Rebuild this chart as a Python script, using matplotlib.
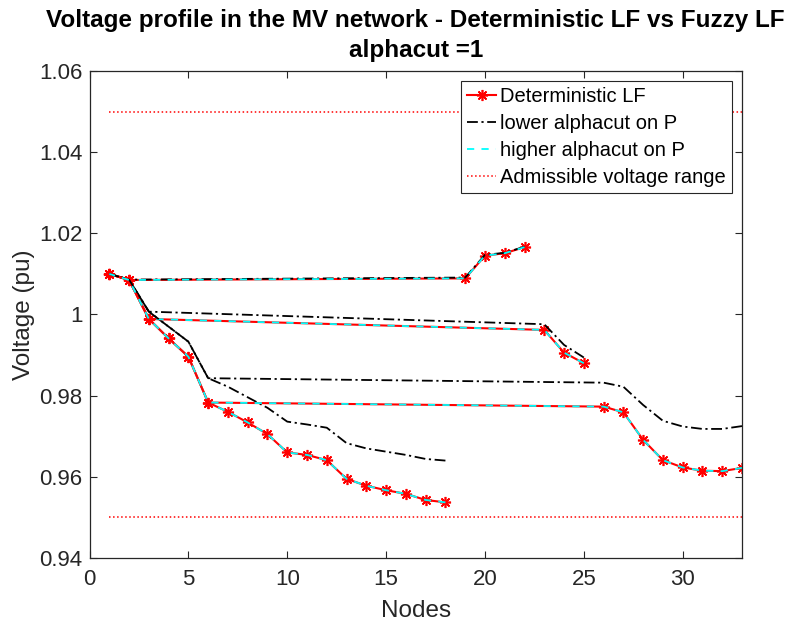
import matplotlib
matplotlib.use("Agg")
import matplotlib.pyplot as plt

plt.rcParams['font.family'] = ['Liberation Sans', 'DejaVu Sans']

nodes = list(range(1, 34))

v_det = [1.0100, 1.0085, 0.9989, 0.9941, 0.9896, 0.9783, 0.9760, 0.9734, 0.9705, 0.9660,
         0.9654, 0.9641, 0.9595, 0.9578, 0.9567, 0.9558, 0.9543, 0.9537, 1.0089, 1.0145,
         1.0151, 1.0166, 0.9962, 0.9906, 0.9880, 0.9773, 0.9759, 0.9691, 0.9641, 0.9623,
         0.9615, 0.9614, 0.9622]

v_low = [1.0100, 1.0086, 1.0007, 0.9970, 0.9933, 0.9843, 0.9822, 0.9796, 0.9770, 0.9736,
         0.9729, 0.9721, 0.9683, 0.9670, 0.9662, 0.9654, 0.9644, 0.9640, 1.0091, 1.0147,
         1.0152, 1.0167, 0.9976, 0.9925, 0.9894, 0.9832, 0.9822, 0.9777, 0.9738, 0.9724,
         0.9718, 0.9718, 0.9725]

v_high = [1.0100, 1.0085, 0.9989, 0.9941, 0.9896, 0.9783, 0.9760, 0.9734, 0.9705, 0.9660,
          0.9654, 0.9641, 0.9595, 0.9578, 0.9567, 0.9558, 0.9543, 0.9537, 1.0089, 1.0145,
          1.0151, 1.0166, 0.9962, 0.9906, 0.9880, 0.9773, 0.9759, 0.9691, 0.9641, 0.9623,
          0.9615, 0.9614, 0.9622]

# feeder paths (leaf -> root), IEEE 33-bus topology
paths = [
    [18, 17, 16, 15, 14, 13, 12, 11, 10, 9, 8, 7, 6, 5, 4, 3, 2, 1],
    [22, 21, 20, 19, 2, 1],
    [25, 24, 23, 3, 2, 1],
    [33, 32, 31, 30, 29, 28, 27, 26, 6, 5, 4, 3, 2, 1],
]

v_min, v_max = 0.95, 1.05

labels = ['Deterministic LF', 'lower alphacut on P', 'higher alphacut on P',
          'Admissible voltage range']
title_lines = ['Voltage profile in the MV network - Deterministic LF vs Fuzzy LF',
               'alphacut =1']

W, H = 793, 624
fig = plt.figure(figsize=(W / 100, H / 100), dpi=100)
ax = fig.add_axes([0.1129, 0.1058, 0.8228, 0.7804])

dark = (0.15, 0.15, 0.15)
handles = []
for i, p in enumerate(paths):
    xs = p
    h1, = ax.plot(xs, [v_det[n - 1] for n in p], color='red', lw=1.5, marker=(8, 2, 0),
                  markersize=8, markeredgewidth=1.2, markeredgecolor='red')
    h2, = ax.plot(xs, [v_low[n - 1] for n in p], color='black', lw=1.3, ls='-.',
                  dashes=(6, 2, 1.2, 2))
    h3, = ax.plot(xs, [v_high[n - 1] for n in p], color='cyan', lw=1.3, ls='--',
                  dashes=(4, 4))
    if i == 0:
        handles = [h1, h2, h3]
h4, = ax.plot([nodes[0], nodes[-1]], [v_max, v_max], color='red', ls=':', lw=1.1)
ax.plot([nodes[0], nodes[-1]], [v_min, v_min], color='red', ls=':', lw=1.1)
handles.append(h4)

ax.set_xlim(0, 33)
ax.set_ylim(0.94, 1.06)
ax.set_xticks([0, 5, 10, 15, 20, 25, 30])
ax.set_yticks([0.94, 0.96, 0.98, 1.0, 1.02, 1.04, 1.06])
ax.set_yticklabels(['0.94', '0.96', '0.98', '1', '1.02', '1.04', '1.06'])

ax.tick_params(direction='in', length=5, width=0.8, top=True, right=True,
               labelsize=16, colors=dark, labelcolor=dark)
ax.tick_params(axis='x', pad=8)
ax.tick_params(axis='y', pad=5)
for s in ax.spines.values():
    s.set_color(dark)
    s.set_linewidth(0.9)

ax.set_xlabel('Nodes', fontsize=17.5, color=dark, labelpad=7)
ax.set_ylabel('Voltage (pu)', fontsize=17.5, color=dark, labelpad=3)

cx = (0.1129 + 0.1129 + 0.8228) / 2
fig.text(cx, 1 - 21 / H, title_lines[0], fontsize=17.5, fontweight='bold',
         ha='center', va='center')
fig.text(cx, 1 - 51 / H, title_lines[1], fontsize=17.5, fontweight='bold',
         ha='center', va='center')

leg = ax.legend(handles, labels, loc='upper right', fontsize=14.5, frameon=True,
                fancybox=False, framealpha=1, edgecolor=dark, handlelength=1.45,
                handletextpad=0.2, borderpad=0.3, labelspacing=0.4, borderaxespad=0.5)
leg.get_frame().set_linewidth(0.8)

fig.savefig('out.png', dpi=100)
